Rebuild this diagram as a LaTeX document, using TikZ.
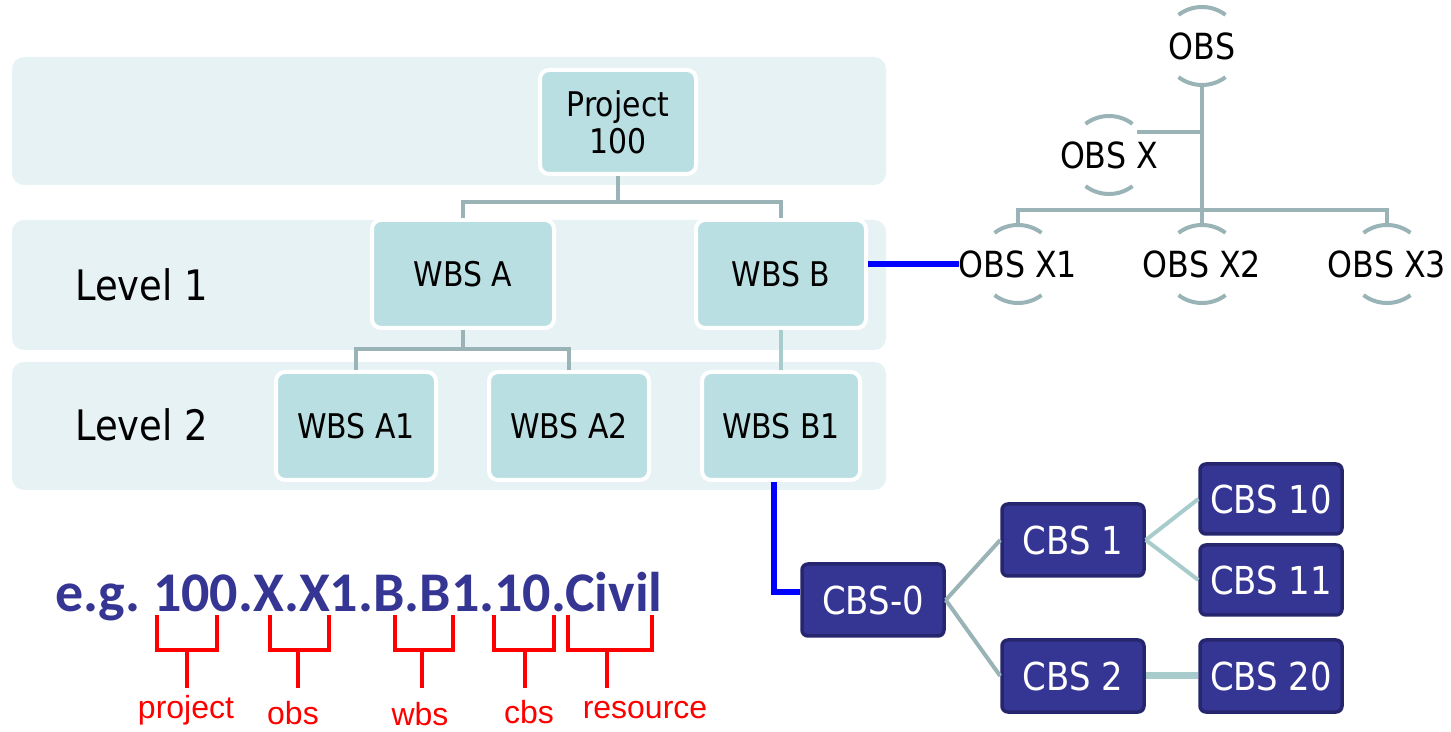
\documentclass[tikz,border=0pt]{standalone}
\usepackage{fontspec}
\setmainfont{DejaVu Sans}[FakeStretch=0.88]
\newfontfamily\calib{Carlito}
\newfontfamily\arialf{Liberation Sans}
\definecolor{bandc}{HTML}{E7F2F4}
\definecolor{boxc}{HTML}{BADFE2}
\definecolor{connc}{HTML}{99B3B6}
\definecolor{connl}{HTML}{A8CBCC}
\definecolor{cbsc}{HTML}{353594}
\definecolor{cbsb}{HTML}{26266E}
\definecolor{egc}{HTML}{353594}
\definecolor{bluec}{HTML}{0000FF}
\definecolor{redc}{HTML}{FF0000}
\tikzset{
  band/.style={fill=bandc, rounded corners=12pt},
  wbs/.style={draw=white, line width=4pt, fill=boxc, rounded corners=9pt, inner sep=0pt, align=center,
    font=\fontsize{34}{37}\selectfont},
  cbs/.style={draw=cbsb, line width=3.5pt, fill=cbsc, rounded corners=6pt, text=white,
    minimum width=142pt, minimum height=72pt, inner sep=0pt, font=\fontsize{38.5}{44}\selectfont},
  conn/.style={draw=connc, line width=4pt},
  connlt/.style={draw=connl, line width=4pt},
  bluecon/.style={draw=bluec, line width=6pt},
  obs/.style={inner sep=0pt, font=\fontsize{36}{40}\selectfont},
  lvl/.style={inner sep=0pt, anchor=west, font=\fontsize{42}{46}\selectfont},
  brk/.style={draw=redc, line width=4.5pt},
  rlab/.style={text=redc, inner sep=0pt, font=\arialf\fontsize{32}{36}\selectfont},
}
\begin{document}
\begin{tikzpicture}[x=1pt,y=1pt]
\useasboundingbox (0,0) rectangle (1451,731);
% bands
\fill[band] (12,546) rectangle (886,674);
\fill[band] (12,381) rectangle (886,511);
\fill[band] (12,241) rectangle (886,369);
% level labels
\node[lvl] (l1) at (75,446) {Level 1};
\node[lvl] (l2) at (75,306) {Level 2};
% WBS boxes
\node[wbs, minimum width=156pt, minimum height=104pt] (proj) at (618,609) {Project\\100};
\node[wbs, minimum width=182pt, minimum height=108pt] (wa) at (463,457) {WBS A};
\node[wbs, minimum width=170pt, minimum height=108pt] (wb) at (781,457) {WBS B};
\node[wbs, minimum width=160pt, minimum height=108pt] (a1) at (356,305) {WBS A1};
\node[wbs, minimum width=160pt, minimum height=108pt] (a2) at (569,305) {WBS A2};
\node[wbs, minimum width=158pt, minimum height=108pt] (b1) at (781,305) {WBS B1};
% WBS connectors
\draw[conn] (proj.south) -- ++(0,-26) -| (wa.north);
\draw[conn] (proj.south) -- ++(0,-26) -| (wb.north);
\draw[conn] (wa.south) -- ++(0,-19) -| (a1.north);
\draw[conn] (wa.south) -- ++(0,-19) -| (a2.north);
\draw[connlt] (wb.south) -- (b1.north);
% OBS
\node[obs] (obs) at (1202,685) {OBS};
\node[obs] (ox) at (1109,576) {OBS X};
\node[obs] (x1) at (1018,467) {OBS X1};
\node[obs] (x2) at (1202,467) {OBS X2};
\node[obs] (x3) at (1387,467) {OBS X3};
\foreach \n in {obs,ox,x1,x2,x3}{
  \draw[conn] ([shift={(53:39)}]\n.center) arc[start angle=53, end angle=127, radius=39];
  \draw[conn] ([shift={(233:39)}]\n.center) arc[start angle=233, end angle=307, radius=39];
}
\coordinate (obsb) at ([yshift=-39pt]obs.center);
\coordinate (x1t) at ([yshift=39pt]x1.center);
\coordinate (x2t) at ([yshift=39pt]x2.center);
\coordinate (x3t) at ([yshift=39pt]x3.center);
\coordinate (oxe) at ([shift={(28,23)}]ox.center);
\draw[conn] (obsb) -- (x2t);
\draw[conn] (oxe) -- (oxe -| obsb);
\draw[conn] (x1t) -- ++(0,15) -| (x3t);
% CBS
\node[cbs] (c0) at (873,131) {CBS-0};
\node[cbs] (c1) at (1073,191) {CBS 1};
\node[cbs] (c2) at (1073,55) {CBS 2};
\node[cbs, minimum height=70pt] (c10) at (1271,232) {CBS 10};
\node[cbs, minimum height=70pt] (c11) at (1271,151) {CBS 11};
\node[cbs] (c20) at (1271,55) {CBS 20};
\draw[conn] (c0.east) -- (c1.west);
\draw[conn] (c0.east) -- (c2.west);
\draw[connlt] (c1.east) -- (c10.west);
\draw[connlt] (c1.east) -- (c11.west);
\draw[connlt, line width=7pt] (c2.east) -- (c20.west);
% blue links
\draw[bluecon] (wb.east |- x1.west) -- (x1.west);
\draw[bluecon] ([xshift=-7pt]b1.south) |- ([yshift=8pt]c0.west);
% code example
\node[anchor=base west, inner sep=0pt, text=egc, font=\calib\bfseries\fontsize{56}{60}\selectfont] (eg) at (55,119) {\frenchspacing e.g. 100.X.X1.B.B1.10.Civil};
% red labels
\node[rlab] (lp) at (186,21) {project};
\node[rlab] (lo) at (293,18) {obs};
\node[rlab] (lw) at (420,17) {wbs};
\node[rlab] (lc) at (529,19) {cbs};
\node[rlab] (lr) at (645,21) {resource};
% brackets
\draw[brk] (157,116) -- (157,81) -- (217,81) -- (217,116);
\draw[brk] (187,81) -- (187,43);
\draw[brk] (270,116) -- (270,81) -- (329,81) -- (329,116);
\draw[brk] (298,81) -- (298,43);
\draw[brk] (395,116) -- (395,81) -- (453,81) -- (453,116);
\draw[brk] (422,81) -- (422,43);
\draw[brk] (494,116) -- (494,81) -- (554,81) -- (554,116);
\draw[brk] (525,81) -- (525,43);
\draw[brk] (568,116) -- (568,81) -- (652,81) -- (652,116);
\draw[brk] (607,81) -- (607,43);
\end{tikzpicture}
\end{document}
